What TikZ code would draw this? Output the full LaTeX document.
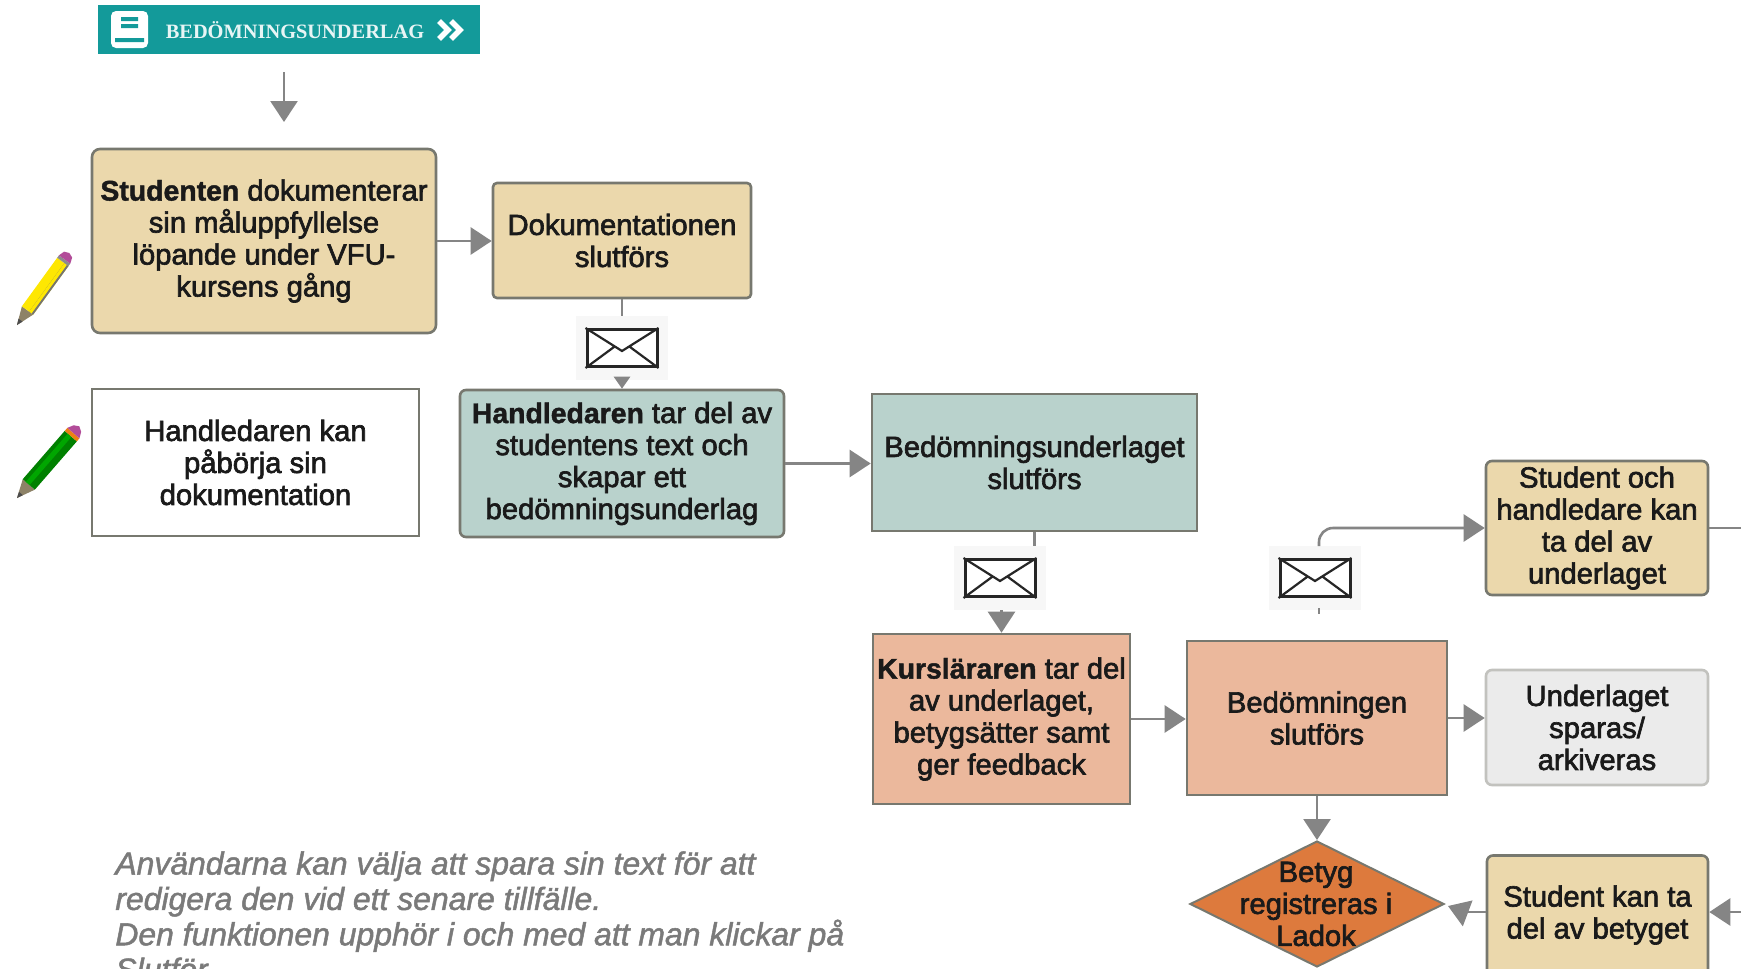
\documentclass[tikz,border=0pt]{standalone}
\usepackage{fontspec}
\setmainfont{Liberation Sans}
\newfontfamily\txtf{Liberation Sans}[FakeBold=2.2]
\newfontfamily\hvyf{Liberation Sans Bold}[FakeBold=1.5]
\newfontfamily\banf{Liberation Serif Bold}
\newfontfamily\itf{Liberation Sans Italic}[FakeBold=1.5]
\usetikzlibrary{arrows.meta,shapes.geometric,calc}
\definecolor{tanf}{HTML}{EBD8AC}
\definecolor{tealf}{HTML}{B9D2CC}
\definecolor{salm}{HTML}{EBB89C}
\definecolor{grayf}{HTML}{EBEBEB}
\definecolor{oran}{HTML}{DD7A3D}
\definecolor{banc}{HTML}{139A9A}
\definecolor{edge}{HTML}{77786F}
\definecolor{arr}{HTML}{858585}
\definecolor{txtc}{HTML}{1A1A1A}
\definecolor{envbg}{HTML}{F7F7F7}
\tikzset{
  x=.5pt,y=-.5pt,
  fbox/.style={draw=edge,line width=1.3pt,inner sep=0pt,align=center,text=txtc,
    font=\txtf\fontsize{14.6}{16}\selectfont},
  flow/.style={draw=arr,line width=1.3pt,-{Triangle[length=10.5pt,width=13.5pt,fill=arr]}},
  smallflow/.style={draw=arr,line width=1.3pt,-{Triangle[length=6pt,width=8pt,fill=arr]}},
  plain/.style={draw=arr,line width=1.3pt},
  envback/.style={fill=envbg,draw=none,minimum width=46pt,minimum height=32pt,inner sep=0pt},
  envfront/.style={draw=black!85,fill=white,line width=1.5pt,minimum width=35pt,minimum height=18.5pt,inner sep=0pt},
  flap/.style={draw=black!85,line width=1.1pt},
}
\newcommand{\hv}[1]{{\hvyf\fontsize{14.2}{16}\selectfont #1}}
\begin{document}
\begin{tikzpicture}
\useasboundingbox (0,0) rectangle (1741,969);
\clip (0,0) rectangle (1741,969);
\fill[white] (0,0) rectangle (1741,969);

% banner
\node[fill=banc,minimum width=191pt,minimum height=24.5pt,inner sep=0pt] (ban) at (289,29) {};
\node[text=white!90!banc,font=\banf\fontsize{10.2}{11}\selectfont,inner sep=0pt] (bant) at (295,30) {BEDÖMNINGSUNDERLAG};
\fill[white,rounded corners=2.5pt] (111,11) rectangle (148,48);
\fill[banc] (121,17) rectangle (138,21) (121,24) rectangle (138,28) (115,38) rectangle (144,42);
\draw[white,line width=2.8pt] (439,21) -- (448,30) -- (439,39) (451,21) -- (460,30) -- (451,39);

% boxes
\node[fbox,fill=tanf,rounded corners=4pt,minimum width=172pt,minimum height=92pt] (stud) at (264,241)
  {\hv{Studenten} dokumenterar\\sin måluppfyllelse\\löpande under VFU-\\kursens gång};
\node[fbox,fill=tanf,rounded corners=2pt,minimum width=129pt,minimum height=57.5pt] (dok) at (622,240.5)
  {Dokumentationen\\slutförs};
\node[fbox,fill=white,minimum width=163.5pt,minimum height=73.5pt] (hkan) at (255.5,462.5)
  {Handledaren kan\\påbörja sin\\dokumentation};
\node[fbox,fill=tealf,rounded corners=3pt,minimum width=162pt,minimum height=73.5pt] (htar) at (622,463.5)
  {\hv{Handledaren} tar del av\\studentens text och\\skapar ett\\bedömningsunderlag};
\node[fbox,fill=tealf,minimum width=162.5pt,minimum height=68.5pt] (bedu) at (1034.5,462.5)
  {Bedömningsunderlaget\\slutförs};
\node[fbox,fill=salm,minimum width=128.5pt,minimum height=85pt] (kurs) at (1001.5,719)
  {\hv{Kursläraren} tar del\\av underlaget,\\betygsätter samt\\ger feedback};
\node[fbox,fill=salm,minimum width=130pt,minimum height=77pt] (bedo) at (1317,718)
  {Bedömningen\\slutförs};
\node[fbox,fill=tanf,rounded corners=3pt,minimum width=111pt,minimum height=67pt] (stuo) at (1597,528)
  {Student och\\handledare kan\\ta del av\\underlaget};
\node[fbox,draw=edge!45,fill=grayf,rounded corners=3pt,minimum width=111pt,minimum height=57.5pt] (unde) at (1597,727.5)
  {Underlaget\\sparas/\\arkiveras};
\node[fbox,fill=tanf,rounded corners=3pt,minimum width=110.5pt,minimum height=59.5pt] (stuk) at (1597.5,915)
  {Student kan ta\\del av betyget};
\node[diamond,aspect=2,draw=edge,fill=oran,line width=1pt,inner sep=0pt,minimum width=127pt,minimum height=63pt] (dia) at (1317,904) {};
\node[align=center,text=txtc,inner sep=0pt,font=\txtf\fontsize{14.6}{16}\selectfont] (diat) at (1316,904) {Betyg\\registreras i\\Ladok};

% envelopes
\foreach \n/\xx/\yy in {e1/622/348,e2/1000/578,e3/1315/578}{
  \node[envback] (\n bg) at (\xx,\yy) {};
  \node[envfront] (\n) at (\xx,\yy) {};
  \draw[flap] (\n.north west) -- ($(\n.center)+(0,3)$) -- (\n.north east)
    (\n.south west) -- ($(\n.center)+(-8,-1)$) (\n.south east) -- ($(\n.center)+(8,-1)$);
}

% free ends
\coordinate (a1) at (284,72);
\coordinate (a2) at (284,122);
\coordinate (d1) at (1319,608);
\coordinate (d2) at (1319,614);
\coordinate (c3) at (1319,546);
\coordinate (r1) at (1741,528);
\coordinate (r2) at (1741,912);
\coordinate (j1) at (1464,912);

% connectors
\draw[flow] (a1) -- (a2);
\draw[flow] (stud.east) -- (stud.east -| dok.west);
\draw[plain] (dok.south) -- (e1bg.north);
\draw[smallflow] (e1bg.south) -- (htar.north);
\draw[flow] (htar.east) -- (htar.east -| bedu.west);
\draw[plain] (bedu.south) -- (bedu.south |- e2bg.north);
\draw[flow] (e2bg.south -| kurs.north) -- (kurs.north);
\draw[flow] (kurs.east) -- (kurs.east -| bedo.west);
\draw[flow] (bedo.east) -- (bedo.east -| unde.west);
\draw[flow] (bedo.south) -- (dia.north);
\draw[flow,rounded corners=7pt] (c3) |- (stuo.west);
\draw[plain] (d1) -- (d2);
\draw[plain] (stuo.east) -- (r1);
\draw[flow] (r2) -- (r2 -| stuk.east);
\draw[plain] (stuk.west |- j1) -- (j1);
\draw[flow] (j1) -- ($(dia.east)+(3,2)$);

% note
\node[anchor=north west,inner sep=0pt,align=left,text=black!52,font=\itf\fontsize{15.95}{17.7}\selectfont] (note) at (115,851)
  {Användarna kan välja att spara sin text för att\\redigera den vid ett senare tillfälle.\\Den funktionen upphör i och med att man klickar på\\Slutför};

% pencils
\begin{scope}[shift={(17,325)},rotate=54]
  \fill[black!40!tanf] (0,0) -- (18,-7) -- (18,7) -- cycle;
  \fill[black!70] (0,0) -- (6,-2.5) -- (6,2.5) -- cycle;
  \fill[yellow!90!orange] (18,-7) rectangle (78,7);
  \fill[black!55] (18,2) rectangle (78,7);
  \fill[yellow!90!orange] (18,2) rectangle (78,5);
  \fill[black!45] (78,-7) rectangle (81,7);
  \fill[violet!60!pink] (81,-7) -- (87,-5) -- (89,0) -- (87,5) -- (81,7) -- cycle;
\end{scope}
\begin{scope}[shift={(17,498)},rotate=49]
  \fill[black!40!tanf] (0,0) -- (18,-8) -- (18,8) -- cycle;
  \fill[black!70] (0,0) -- (6,-2.5) -- (6,2.5) -- cycle;
  \fill[green!50!black] (18,-8) rectangle (82,8);
  \fill[green!65!black] (18,-4) rectangle (82,1);
  \fill[orange!70!brown] (82,-8) rectangle (86,8);
  \fill[violet!60!pink] (86,-8) -- (92,-5) -- (95,0) -- (92,5) -- (86,8) -- cycle;
\end{scope}
\end{tikzpicture}
\end{document}
